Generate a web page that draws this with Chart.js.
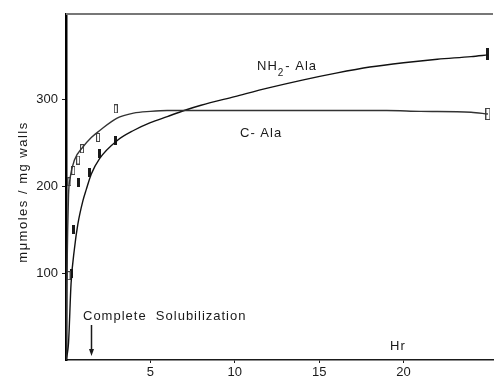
<!DOCTYPE html>
<html>
<head>
<meta charset="utf-8">
<script src="https://cdn.jsdelivr.net/npm/chart.js@4.4.1/dist/chart.umd.min.js"></script>
<style>
    html, body { margin: 0; padding: 0; background: #fff; }
    canvas { display: block; }
</style>
</head>
<body>
<canvas id="chart" width="499" height="379"></canvas>
<script>
// Smoothed curves (hours, mμmoles / mg walls)
const cAlaCurveX = [0, 0.05, 0.1, 0.15, 0.25, 0.5, 1.0, 1.5, 2.0, 3.0, 4.0, 5.0, 6.0, 8.0, 12, 16, 19, 21, 24, 25];
const cAlaCurveY = [0, 90, 150, 190, 210, 230, 245, 256, 264, 278, 284, 286, 287, 287, 287, 287, 287, 286, 285, 283];

const nh2CurveX = [0, 0.15, 0.3, 0.5, 0.7, 1.0, 1.2, 1.5, 2.0, 3.0, 4.0, 5.0, 6.0, 7.0, 8.0, 10, 12, 14, 16, 18, 20, 22, 24, 25];
const nh2CurveY = [0, 20, 88, 128, 156, 183, 196, 214, 232, 252, 264, 273, 280, 287, 293, 303, 313, 322, 330, 337, 342, 346, 349, 351];

// Measured points
const cAlaPointsX = [0.15, 0.2, 0.43, 0.72, 0.95, 1.9, 2.95];
const cAlaPointsY = [97, 205, 218, 230, 243, 256, 289];
const cAlaEndX = [25];
const cAlaEndY = [283];

const nh2PointsX = [0.35, 0.47, 0.74, 1.4, 2.0, 2.95];
const nh2PointsY = [100, 150, 204, 216, 238, 253];
const nh2EndX = [25];
const nh2EndY = [352];

const xTicks = [5, 10, 15, 20];
const yTicks = [100, 200, 300];
const yTitle = 'mμmoles / mg walls';
const solubilizationTime = 1.5;

const FONT = '"Liberation Sans", Arial, sans-serif';
const INK = '#1a1a1a';

const toPoints = (xs, ys) => xs.map((x, i) => ({ x, y: ys[i] }));

// little bar markers like the original
function openMarker(w, h) {
    const c = document.createElement('canvas');
    c.width = w; c.height = h;
    const g = c.getContext('2d');
    g.strokeStyle = '#444';
    g.lineWidth = 1;
    g.strokeRect(0.5, 0.5, w - 1, h - 1);
    return c;
}
function filledMarker(w, h) {
    const c = document.createElement('canvas');
    c.width = w; c.height = h;
    const g = c.getContext('2d');
    g.fillStyle = INK;
    g.fillRect(0, 0, w, h);
    return c;
}

const annotations = {
    id: 'annotations',
    afterDraw(chart) {
        const { ctx, chartArea, scales } = chart;
        const xs = scales.x, ys = scales.y;
        ctx.save();

        // top frame line
        ctx.strokeStyle = '#777';
        ctx.lineWidth = 2;
        ctx.beginPath();
        ctx.moveTo(chartArea.left, chartArea.top);
        ctx.lineTo(chartArea.right, chartArea.top);
        ctx.stroke();

        ctx.fillStyle = INK;
        ctx.textBaseline = 'alphabetic';
        ctx.letterSpacing = '1px';
        ctx.font = '13px ' + FONT;

        // NH2-Ala label with subscript
        let x = 257;
        ctx.fillText('NH', x, 70);
        x += ctx.measureText('NH').width;
        ctx.font = '10px ' + FONT;
        ctx.fillText('2', x, 76);
        x += ctx.measureText('2').width + 1;
        ctx.font = '13px ' + FONT;
        ctx.fillText('- Ala', x, 70);

        ctx.fillText('C- Ala', 240, 137);
        ctx.fillText('Hr', 390, 350);
        ctx.fillText('Complete  Solubilization', 83, 320);

        // y axis title, rotated
        ctx.save();
        ctx.letterSpacing = '1.5px';
        ctx.translate(23, (chartArea.top + chartArea.bottom) / 2 + 5);
        ctx.rotate(-Math.PI / 2);
        ctx.textAlign = 'center';
        ctx.textBaseline = 'middle';
        ctx.fillText(yTitle, 0, 0);
        ctx.restore();

        // arrow for complete solubilization
        const ax = Math.round(xs.getPixelForValue(solubilizationTime)) + 0.5;
        ctx.strokeStyle = INK;
        ctx.lineWidth = 1.5;
        ctx.beginPath();
        ctx.moveTo(ax, 325);
        ctx.lineTo(ax, 350);
        ctx.stroke();
        ctx.beginPath();
        ctx.moveTo(ax - 2.5, 349);
        ctx.lineTo(ax + 2.5, 349);
        ctx.lineTo(ax, 356);
        ctx.closePath();
        ctx.fill();

        ctx.restore();
    }
};

const curveStyle = {
    type: 'line',
    pointRadius: 0,
    borderWidth: 1.4,
    cubicInterpolationMode: 'monotone',
    fill: false
};

new Chart(document.getElementById('chart'), {
    data: {
        datasets: [
            { ...curveStyle, label: 'C-Ala', data: toPoints(cAlaCurveX, cAlaCurveY), borderColor: '#333' },
            { ...curveStyle, label: 'NH2-Ala', data: toPoints(nh2CurveX, nh2CurveY), borderColor: '#111' },
            {
                type: 'scatter', data: toPoints(cAlaPointsX, cAlaPointsY),
                pointStyle: openMarker(4, 9), pointRadius: 4
            },
            {
                type: 'scatter', data: toPoints(cAlaEndX, cAlaEndY),
                pointStyle: openMarker(5, 12), pointRadius: 5
            },
            {
                type: 'scatter', data: toPoints(nh2PointsX, nh2PointsY),
                pointStyle: filledMarker(3, 9), pointRadius: 4
            },
            {
                type: 'scatter', data: toPoints(nh2EndX, nh2EndY),
                pointStyle: filledMarker(3, 12), pointRadius: 5
            }
        ]
    },
    options: {
        responsive: false,
        animation: false,
        layout: { padding: { top: 14, right: 0, left: 0, bottom: 0 } },
        plugins: {
            legend: { display: false },
            tooltip: { enabled: false }
        },
        scales: {
            x: {
                type: 'linear',
                min: 0,
                max: 25.3,
                afterFit: s => { s.height = 19; },
                afterBuildTicks: s => { s.ticks = xTicks.map(v => ({ value: v })); },
                grid: { drawOnChartArea: false, tickLength: 3, color: INK },
                border: { color: INK, width: 1.5 },
                ticks: { color: INK, font: { family: FONT, size: 13 }, padding: 2 }
            },
            y: {
                min: 0,
                max: 398,
                afterFit: s => { s.width = 66; },
                afterBuildTicks: s => { s.ticks = yTicks.map(v => ({ value: v })); },
                grid: { drawOnChartArea: false, tickLength: 4, color: INK },
                border: { color: '#000', width: 2.5 },
                ticks: { color: INK, font: { family: FONT, size: 13 }, padding: 4 }
            }
        }
    },
    plugins: [annotations]
});
</script>
</body>
</html>
